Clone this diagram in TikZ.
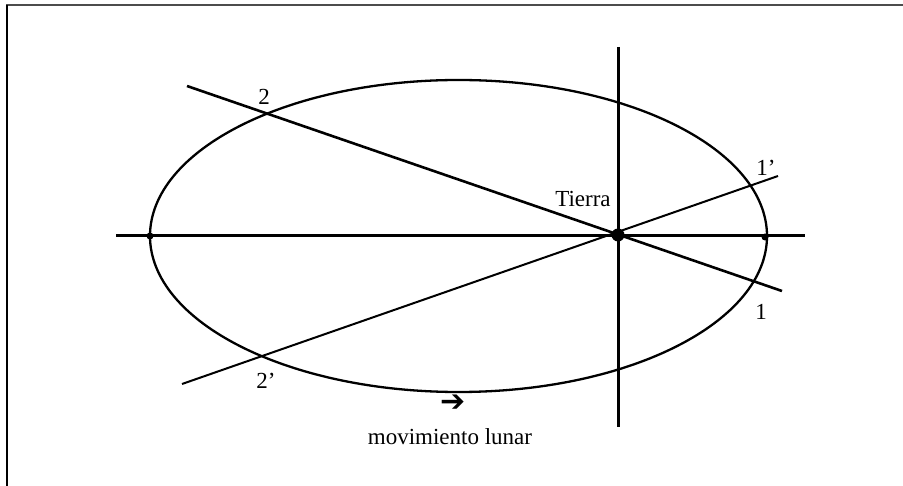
\documentclass[tikz,border=0pt]{standalone}
\usepackage{fontspec}
\setmainfont{Liberation Serif}
\newfontfamily\symfont{DejaVu Sans}
\begin{document}
\begin{tikzpicture}[x=1pt,y=-1pt,
  lbl/.style={font=\fontsize{23}{25}\selectfont, inner sep=0pt},
  axis/.style={line width=3pt},
  orbit/.style={line width=2.3pt},
  chordA/.style={line width=2.6pt},
  chordB/.style={line width=2pt}]
\useasboundingbox (0,0) rectangle (903,486);
% frame
\draw[line width=2pt, black!70] (6,5) -- (903,5);
\draw[line width=2.2pt] (7,5) -- (7,486);
% orbit
\draw[orbit] (458.5,236) ellipse [x radius=308.5, y radius=156];
% axes
\coordinate (hL) at (116,236);
\coordinate (hR) at (805,236);
\coordinate (vT) at (618,47);
\coordinate (vB) at (618,427);
\draw[axis] (hL) -- (hR);
\draw[axis] (vT) -- (vB);
% chords
\coordinate (a1) at (187,86);
\coordinate (a2) at (782,291);
\coordinate (b1) at (182,384);
\coordinate (b2) at (778,176);
\draw[chordA] (a1) -- (a2);
\draw[chordB] (b1) -- (b2);
% dots
\fill (618,235) circle (6.5);
\fill (150,236) circle (3.5);
\fill (765,237) circle (3.5);
% labels
\node[lbl] (l2) at (264,97) {2};
\node[lbl] (l2p) at (266,381) {2’};
\node[lbl] (l1p) at (766,168) {1’};
\node[lbl] (l1) at (761,312) {1};
\node[lbl] (tierra) at (583,199) {Tierra};
\node[inner sep=0pt, font=\symfont\fontsize{30}{32}\selectfont] (arr) at (453,403) {➔};
\node[lbl] (mov) at (450,437) {movimiento lunar};
\end{tikzpicture}
\end{document}
